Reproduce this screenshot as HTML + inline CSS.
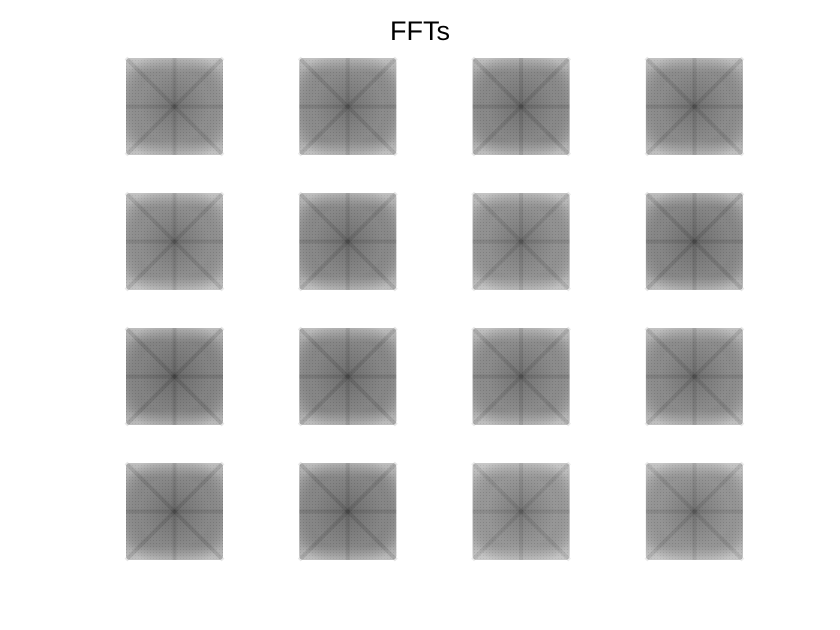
<!DOCTYPE html>
<html><head><meta charset="utf-8"><style>
body{margin:0;background:#fff;width:840px;height:630px;overflow:hidden}
svg{display:block}
</style></head><body>
<svg id="chart" width="840" height="630" xmlns="http://www.w3.org/2000/svg">
<defs>
<radialGradient id="rg" cx="50%" cy="50%" r="60%">
<stop offset="0%" stop-color="#000" stop-opacity="0.22"/>
<stop offset="60%" stop-color="#000" stop-opacity="0.05"/>
<stop offset="100%" stop-color="#fff" stop-opacity="0.2"/>
</radialGradient>
<linearGradient id="vg" x1="0" y1="0" x2="0" y2="1">
<stop offset="0%" stop-color="#fff" stop-opacity="0.3"/>
<stop offset="15%" stop-color="#fff" stop-opacity="0"/>
<stop offset="85%" stop-color="#fff" stop-opacity="0"/>
<stop offset="100%" stop-color="#fff" stop-opacity="0.3"/>
</linearGradient>
<pattern id="hatch" width="3" height="3" patternUnits="userSpaceOnUse">
<rect width="1" height="1" fill="#000" fill-opacity="0.12"/>
</pattern>
</defs>
<text x="420" y="40" text-anchor="middle" font-family="Liberation Sans, sans-serif" font-size="27" fill="#000">FFTs</text>
<g id="tiles"></g>
</svg>
<script>
const tileRows = [0, 1, 2, 3];
const tileCols = [0, 1, 2, 3];
const tileDarkness = [
  [0.50, 0.55, 0.60, 0.55],
  [0.50, 0.60, 0.45, 0.65],
  [0.70, 0.65, 0.55, 0.55],
  [0.60, 0.65, 0.35, 0.40]
];
const x0 = 126, y0 = 58, dx = 173.3, dy = 135, size = 97;
const colX = c => x0 + c * dx;
const rowY = r => y0 + r * dy;
const g = document.getElementById('tiles');
const NS = 'http://www.w3.org/2000/svg';
tileRows.forEach(r => tileCols.forEach(c => {
  const d = tileDarkness[r][c];
  const x = colX(c), y = rowY(r);
  const grp = document.createElementNS(NS, 'g');
  
  
  const v = Math.round(180 - d * 60);
  const base = document.createElementNS(NS, 'rect');
  base.setAttribute('x', x); base.setAttribute('y', y);
  base.setAttribute('width', size); base.setAttribute('height', size);
  base.setAttribute('rx', 4);
  base.setAttribute('fill', `rgb(${v},${v},${v})`);
  grp.appendChild(base);
  ['url(#rg)', 'url(#hatch)', 'url(#vg)'].forEach(f => {
    const o = document.createElementNS(NS, 'rect');
    o.setAttribute('x', x); o.setAttribute('y', y);
    o.setAttribute('width', size); o.setAttribute('height', size);
    o.setAttribute('rx', 4);
    o.setAttribute('fill', f);
    grp.appendChild(o);
  });
  [[x, y, x + size, y + size], [x + size, y, x, y + size], [x + size / 2, y, x + size / 2, y + size], [x, y + size / 2, x + size, y + size / 2]].forEach(p => {
    const l = document.createElementNS(NS, 'line');
    l.setAttribute('x1', p[0]); l.setAttribute('y1', p[1]);
    l.setAttribute('x2', p[2]); l.setAttribute('y2', p[3]);
    l.setAttribute('stroke', '#000');
    l.setAttribute('stroke-opacity', 0.05 + d * 0.08);
    l.setAttribute('stroke-width', 4);
    grp.appendChild(l);
  });
  g.appendChild(grp);
}));
</script>
</body></html>
